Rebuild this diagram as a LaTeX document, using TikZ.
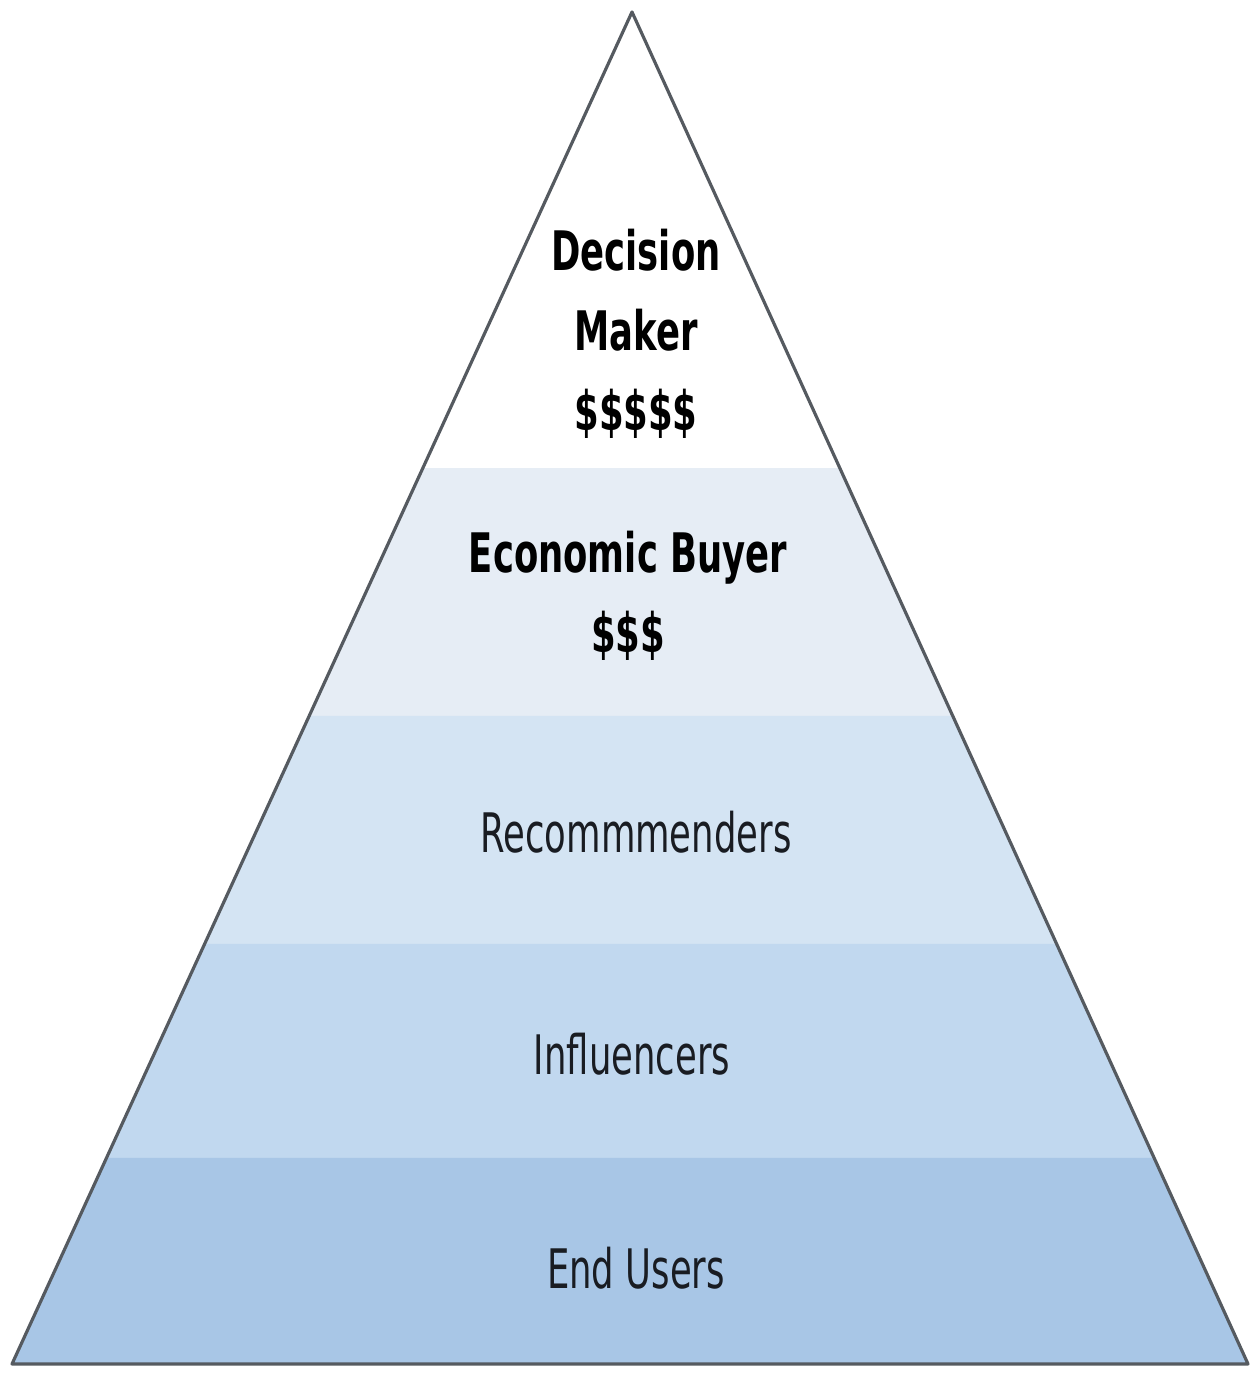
\documentclass[tikz,border=0pt]{standalone}
\usepackage{fontspec}
\setmainfont{DejaVu Sans}[FakeStretch=0.65]
\usetikzlibrary{calc,positioning}
\definecolor{edgegray}{RGB}{85,90,96}
\definecolor{bandtwo}{RGB}{230,237,245}
\definecolor{bandthree}{RGB}{212,228,243}
\definecolor{bandfour}{RGB}{193,216,239}
\definecolor{bandfive}{RGB}{168,198,230}
\definecolor{labeltext}{RGB}{25,28,34}

\begin{document}
\begin{tikzpicture}[
    tier/.style={font=\fontsize{15.5}{22.8}\selectfont,text=labeltext,align=center,inner sep=0pt},
    toptier/.style={tier,font=\fontsize{15.5}{22.8}\selectfont\bfseries,text=black}]
  \useasboundingbox (0,0) rectangle (12.53,13.75);

  % Corners of the pyramid.
  \coordinate (apex) at (6.32,13.63);
  \coordinate (bl) at (0.12,0.11);
  \coordinate (br) at (12.48,0.11);

  % Shaded tiers, as fractions of the way from the apex down the sides.
  \foreach \ta/\tb/\col in {0.3373/0.5207/bandtwo,0.5207/0.6893/bandthree,
      0.6893/0.8476/bandfour,0.8476/1/bandfive}{
    \fill[\col] ($(apex)!\ta!(bl)$) -- ($(apex)!\tb!(bl)$)
      -- ($(apex)!\tb!(br)$) -- ($(apex)!\ta!(br)$) -- cycle;
  }
  \draw[edgegray,line width=0.9pt,line join=round] (apex) -- (bl) -- (br) -- cycle;

  % Labels.
  \node[toptier] (maker) at (6.36,10.41) {Decision\\Maker\\\$\$\$\$\$};
  \node[toptier] (buyer) at (6.28,7.79) {Economic Buyer\\\$\$\$};
  \node[tier] (recom) at (6.36,5.43) {Recommmenders};
  \node[tier] (infl) at (6.32,3.21) {Influencers};
  \node[tier] (users) at (6.36,1.07) {End Users};
\end{tikzpicture}
\end{document}
